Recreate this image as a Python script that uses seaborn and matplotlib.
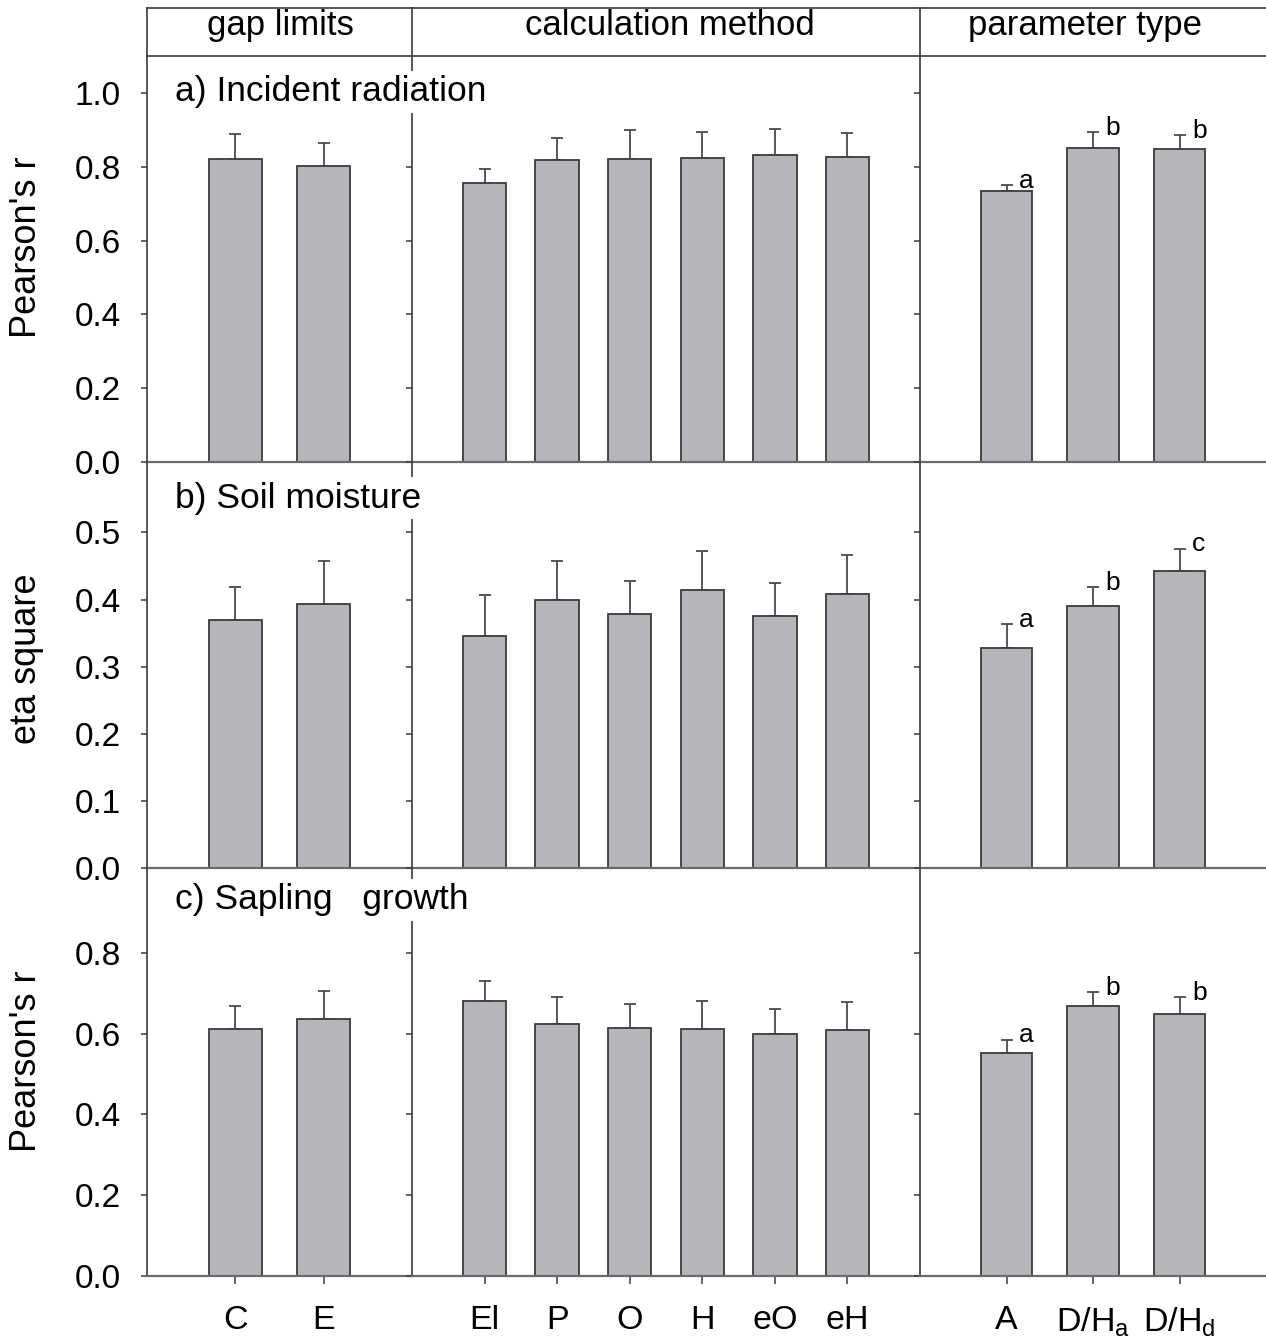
import matplotlib
matplotlib.use('Agg')
import matplotlib.pyplot as plt
import seaborn as sns
import numpy as np
import pandas as pd

# категории по трём группам
gap_cats = ['C', 'E']
method_cats = ['El', 'P', 'O', 'H', 'eO', 'eH']
param_cats = ['A', 'D/H$_\\mathregular{a}$', 'D/H$_\\mathregular{d}$']

# a) Incident radiation (Pearson's r)
rad_gap = [0.822, 0.802]
rad_gap_se = [0.067, 0.063]
rad_method = [0.756, 0.818, 0.821, 0.824, 0.832, 0.826]
rad_method_se = [0.038, 0.060, 0.079, 0.070, 0.070, 0.066]
rad_param = [0.734, 0.851, 0.848]
rad_param_se = [0.017, 0.043, 0.038]
rad_letters = ['a', 'b', 'b']

# b) Soil moisture (eta square)
soil_gap = [0.370, 0.393]
soil_gap_se = [0.048, 0.064]
soil_method = [0.346, 0.399, 0.379, 0.415, 0.375, 0.409]
soil_method_se = [0.061, 0.058, 0.049, 0.058, 0.050, 0.057]
soil_param = [0.328, 0.391, 0.442]
soil_param_se = [0.036, 0.028, 0.034]
soil_letters = ['a', 'b', 'c']

# c) Sapling growth (Pearson's r)
sap_gap = [0.612, 0.637]
sap_gap_se = [0.057, 0.069]
sap_method = [0.681, 0.624, 0.614, 0.612, 0.599, 0.609]
sap_method_se = [0.050, 0.067, 0.060, 0.069, 0.062, 0.070]
sap_param = [0.552, 0.669, 0.649]
sap_param_se = [0.033, 0.034, 0.042]
sap_letters = ['a', 'b', 'b']

col_titles = ['gap limits', 'calculation method', 'parameter type']
col_cats = [gap_cats, method_cats, param_cats]

rows = [
    dict(label='a) Incident radiation', ylabel="Pearson's r", ymax=1.1,
         ticks=[0, 0.2, 0.4, 0.6, 0.8, 1.0],
         vals=[rad_gap, rad_method, rad_param],
         se=[rad_gap_se, rad_method_se, rad_param_se], letters=rad_letters),
    dict(label='b) Soil moisture', ylabel='eta square', ymax=0.605,
         ticks=[0, 0.1, 0.2, 0.3, 0.4, 0.5],
         vals=[soil_gap, soil_method, soil_param],
         se=[soil_gap_se, soil_method_se, soil_param_se], letters=soil_letters),
    dict(label='c) Sapling   growth', ylabel="Pearson's r", ymax=1.01,
         ticks=[0, 0.2, 0.4, 0.6, 0.8],
         vals=[sap_gap, sap_method, sap_param],
         se=[sap_gap_se, sap_method_se, sap_param_se], letters=sap_letters),
]

sns.set_style('ticks')
plt.rcParams['font.family'] = ['Liberation Sans', 'DejaVu Sans']
plt.rcParams['mathtext.fontset'] = 'custom'
plt.rcParams['mathtext.rm'] = 'Liberation Sans'
plt.rcParams['text.color'] = 'black'
plt.rcParams['xtick.labelcolor'] = 'black'
plt.rcParams['ytick.labelcolor'] = 'black'

W, H = 1266, 1343
fig = plt.figure(figsize=(W / 100, H / 100), dpi=100)

col_px = [(147, 412), (412, 920), (920, 1266)]
row_px = [(56, 462), (462, 868), (868, 1276)]
xlims = [(-1, 2), (-1, 6), (-1, 3)]
label_y = [92, 498, 900]
ylabel_y = [247, 659, 1061]
title_x = [280, 670, 1085]

bar_color = '#b5b6ba'
edge_color = '#3c3c3c'
line_color = '#3a3a3a'


def px_rect(x0, x1, y0, y1):
    return [x0 / W, 1 - y1 / H, (x1 - x0) / W, (y1 - y0) / H]


# шапка с названиями групп
for (x0, x1), title, tx in zip(col_px, col_titles, title_x):
    hax = fig.add_axes(px_rect(x0, x1, 8, 56))
    hax.set_xticks([])
    hax.set_yticks([])
    hax.spines['right'].set_visible(False)
    for s in ['top', 'left', 'bottom']:
        hax.spines[s].set_color(line_color)
        hax.spines[s].set_linewidth(1.2)
    hax.text((tx - x0) / (x1 - x0), 0.64, title, transform=hax.transAxes,
             ha='center', va='center', fontsize=25)

for r, row in enumerate(rows):
    y0, y1 = row_px[r]
    for c, (x0, x1) in enumerate(col_px):
        ax = fig.add_axes(px_rect(x0, x1, y0, y1))
        cats = col_cats[c]
        vals = row['vals'][c]
        se = row['se'][c]
        df = pd.DataFrame({'cat': cats, 'val': vals})
        n = len(cats)
        ax.errorbar(np.arange(n), vals, yerr=[np.zeros(n), se], fmt='none',
                    ecolor='#4a4a4a', elinewidth=1.3, capsize=4.5,
                    capthick=1.3, zorder=1)
        sns.barplot(data=df, x='cat', y='val', color=bar_color, saturation=1,
                    width=0.6, edgecolor=edge_color, linewidth=1.3,
                    errorbar=None, ax=ax, zorder=2)
        ax.set_xlim(*xlims[c])
        ax.set_ylim(0, row['ymax'])
        ax.set_xlabel('')
        ax.set_ylabel('')
        ax.set_facecolor('none')
        ax.spines['right'].set_visible(False)
        ax.spines['top'].set_visible(False)
        ax.spines['left'].set_color(line_color)
        ax.spines['left'].set_linewidth(1.2)
        ax.spines['bottom'].set_color('#6a6a6a')
        ax.spines['bottom'].set_linewidth(1.6)
        ax.set_yticks(row['ticks'])
        ax.set_yticklabels([f'{t:.1f}' for t in row['ticks']])
        ax.tick_params(axis='y', direction='out', length=4, width=1.1,
                       color=line_color, pad=15, labelsize=24,
                       labelleft=(c == 0))
        if r < 2:
            ax.tick_params(axis='x', bottom=False, labelbottom=False)
        else:
            ax.tick_params(axis='x', direction='out', length=6, width=1.1,
                           color=line_color, pad=15, labelsize=24.5)
        if c == 2:
            for i, (v, s, lt) in enumerate(zip(vals, se, row['letters'])):
                ax.annotate(lt, (i, v + s), xytext=(9, -2),
                            textcoords='offset points', ha='left',
                            va='baseline', fontsize=19)

    fig.text(175 / W, 1 - label_y[r] / H, row['label'], fontsize=25.5,
             va='center', ha='left', zorder=5,
             bbox=dict(facecolor='white', edgecolor='none', pad=3))
    fig.text(27 / W, 1 - ylabel_y[r] / H, row['ylabel'], fontsize=26,
             rotation=90, va='center', ha='center')

fig.savefig('out.png', dpi=100)
